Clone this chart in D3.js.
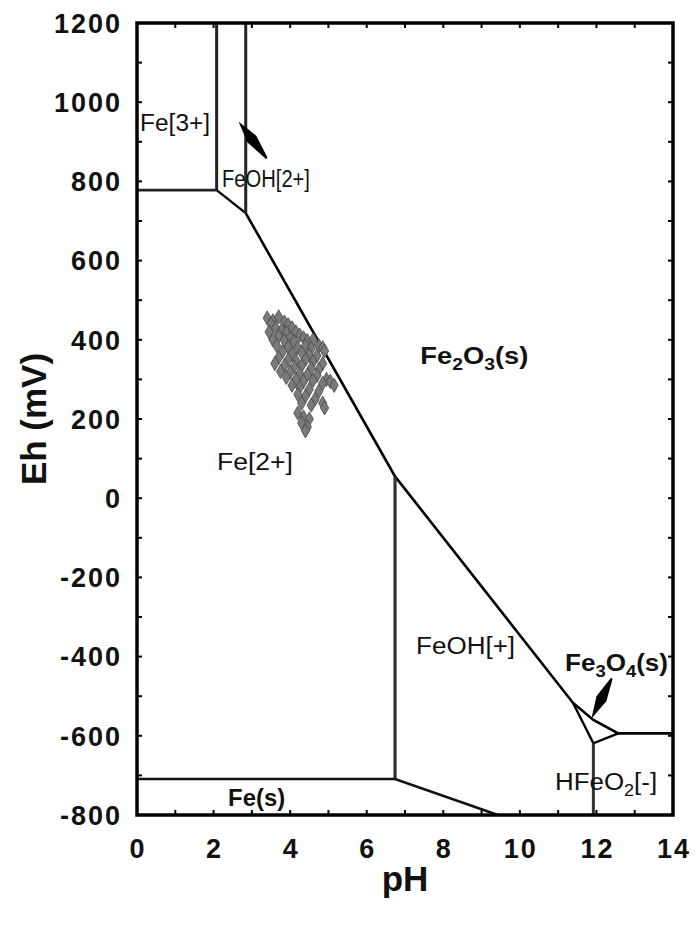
<!DOCTYPE html>
<html>
<head>
<meta charset="utf-8">
<script src="https://cdn.jsdelivr.net/npm/d3@7"></script>
<style>
  html, body { margin: 0; padding: 0; background: #fff; }
  svg { display: block; }
  text { font-family: "Liberation Sans", Arial, sans-serif; }
</style>
</head>
<body>
<svg id="chart" width="695" height="925"></svg>
<script>
// ---- data ----
const phTicks = [0, 2, 4, 6, 8, 10, 12, 14];
const ehTicks = [-800, -600, -400, -200, 0, 200, 400, 600, 800, 1000, 1200];
const phMinorTicks = d3.range(0, 15, 1);
const ehMinorTicks = d3.range(-800, 1201, 100);

// boundary lines [pH, Eh(mV)]
const feIII_feII = [[0, 778], [2.08, 778]];
const feIII_feOH2 = [[2.08, 778], [2.08, 1200]];
const feOH2_feII = [[2.08, 778], [2.84, 720]];
const feOH2_fe2o3 = [[2.84, 720], [2.84, 1200]];
const fe2o3Lower = [[2.84, 720], [6.74, 55], [11.39, -517], [11.92, -560], [12.57, -594], [14, -594]];
const feII_feOH = [[6.74, 55], [6.74, -709]];
const feSolid = [[0, -709], [6.74, -709], [9.43, -800]];
const fe3o4Lower = [[11.39, -517], [11.92, -619], [12.57, -594]];
const hfeo2Left = [[11.92, -619], [11.92, -800]];

// sample points [pH, Eh]
const samples = [
  [3.40,455],[3.55,448],[3.70,458],[3.50,440],[3.85,445],[3.95,438],[3.62,430],[3.78,425],[4.05,430],[3.45,420],
  [3.90,418],[4.15,420],[4.25,412],[3.70,410],[4.00,405],[4.35,405],[3.55,400],[3.85,398],[4.10,395],[4.45,398],
  [4.60,400],[4.75,385],[4.85,380],[4.90,372],[3.65,385],[3.95,382],[4.20,380],[4.40,385],[4.55,378],[3.80,370],
  [4.05,365],[4.30,368],[4.50,362],[4.70,360],[3.70,355],[3.95,350],[4.15,348],[4.40,350],[4.60,345],[4.85,340],
  [3.60,340],[3.85,335],[4.10,332],[4.30,335],[4.55,328],[4.75,325],[3.75,320],[4.00,318],[4.25,315],[4.45,312],
  [4.70,310],[4.95,300],[5.05,295],[3.90,305],[4.15,300],[4.35,295],[4.60,298],[4.85,290],[5.15,285],[4.05,285],
  [4.25,280],[4.50,275],[4.75,270],[4.20,262],[4.40,258],[4.65,250],[4.30,240],[4.55,235],[4.85,240],[4.90,228],
  [4.20,215],[4.35,205],[4.50,200],[4.30,190],[4.45,180],[4.40,170]
];

// region labels
const regionLabels = [
  { parts: [["Fe[3+]", 0]], ph: 0.08, eh: 927, bold: false, w: 70 },
  { parts: [["FeOH[2+]", 0]], ph: 2.22, eh: 786, bold: false, w: 88 },
  { parts: [["Fe", 0], ["2", 1], ["O", 0], ["3", 1], ["(s)", 0]], ph: 7.4, eh: 340, bold: true, w: 108 },
  { parts: [["Fe[2+]", 0]], ph: 2.09, eh: 71, bold: false, w: 76 },
  { parts: [["FeOH[+]", 0]], ph: 7.29, eh: -393, bold: false, w: 99 },
  { parts: [["Fe", 0], ["3", 1], ["O", 0], ["4", 1], ["(s)", 0]], ph: 11.18, eh: -436, bold: true, w: 103 },
  { parts: [["HFeO", 0], ["2", 1], ["[-]", 0]], ph: 10.92, eh: -737, bold: false, w: 102 },
  { parts: [["Fe(s)", 0]], ph: 2.38, eh: -777, bold: true, w: 57 }
];

// arrows [tail, tip]
const arrows = [
  [[3.39, 858], [2.65, 951]],
  [[12.40, -455], [11.87, -556]]
];

// ---- chart ----
const svg = d3.select("#chart");
const L = 137, R = 673, T = 23, B = 815;
const x = d3.scaleLinear().domain([0, 14]).range([L, R]);
const y = d3.scaleLinear().domain([-800, 1200]).range([B, T]);
const line = d3.line().x(d => x(d[0])).y(d => y(d[1]));

// minor ticks (inward)
const tk = 5;
const g = svg.append("g");
phMinorTicks.forEach(v => {
  g.append("line").attr("x1", x(v)).attr("x2", x(v)).attr("y1", B).attr("y2", B - tk).attr("stroke", "#000").attr("stroke-width", 2);
  g.append("line").attr("x1", x(v)).attr("x2", x(v)).attr("y1", T).attr("y2", T + tk).attr("stroke", "#000").attr("stroke-width", 2);
});
ehMinorTicks.forEach(v => {
  g.append("line").attr("x1", L).attr("x2", L + tk).attr("y1", y(v)).attr("y2", y(v)).attr("stroke", "#000").attr("stroke-width", 2);
  g.append("line").attr("x1", R).attr("x2", R - tk).attr("y1", y(v)).attr("y2", y(v)).attr("stroke", "#000").attr("stroke-width", 2);
});

// boundary lines
const boundaries = [
  [feIII_feII, "#222", 2.6], [feIII_feOH2, "#222", 3], [feOH2_feII, "#000", 2.4], [feOH2_fe2o3, "#222", 3],
  [fe2o3Lower, "#000", 2.6], [feII_feOH, "#333", 3.2], [feSolid, "#111", 2.6],
  [fe3o4Lower, "#000", 2.4], [hfeo2Left, "#333", 3]
];
boundaries.forEach(([pts, c, w]) => {
  svg.append("path").attr("d", line(pts)).attr("fill", "none")
    .attr("stroke", c).attr("stroke-width", w).attr("stroke-linejoin", "miter");
});

// samples
svg.append("g").selectAll("path").data(samples).join("path")
  .attr("transform", d => `translate(${x(d[0])},${y(d[1])})`)
  .attr("d", d3.symbol(d3.symbolDiamond).size(58))
  .attr("fill", "#7a7a7a").attr("stroke", "#4a4a4a").attr("stroke-width", 0.8);

// frame
svg.append("rect").attr("x", L).attr("y", T).attr("width", R - L).attr("height", B - T)
  .attr("fill", "none").attr("stroke", "#000").attr("stroke-width", 3.5);

// tick labels
svg.append("g").selectAll("text").data(ehTicks).join("text")
  .attr("x", 122).attr("y", d => y(d)).attr("dy", "0.36em")
  .attr("text-anchor", "end").attr("font-weight", "bold").attr("font-size", 27)
  .attr("letter-spacing", 2)
  .attr("fill", "#111").text(d => d);
svg.append("g").selectAll("text").data(phTicks).join("text")
  .attr("x", d => x(d) + 1).attr("y", 848).attr("dy", "0.36em")
  .attr("text-anchor", "middle").attr("font-weight", "bold").attr("font-size", 27)
  .attr("letter-spacing", 2)
  .attr("fill", "#111").text(d => d);

// axis titles
svg.append("text").attr("x", (L + R) / 2).attr("y", 891).attr("text-anchor", "middle")
  .attr("font-weight", "bold").attr("font-size", 35).attr("fill", "#111").text("pH");
svg.append("text").attr("transform", `translate(46,${(T + B) / 2}) rotate(-90)`).attr("text-anchor", "middle")
  .attr("font-weight", "bold").attr("font-size", 35).attr("fill", "#111").text("Eh (mV)");

// region labels
regionLabels.forEach(lb => {
  const t = svg.append("text").attr("x", x(lb.ph)).attr("y", y(lb.eh))
    .attr("font-size", lb.bold ? 24 : 23).attr("font-weight", lb.bold ? "bold" : "normal")
    .attr("fill", "#111");
  lb.parts.forEach(([s, sub]) => {
    const ts = t.append("tspan").text(s);
    if (sub) ts.attr("font-size", lb.bold ? 17 : 16).attr("dy", 6);
    else if (t.selectAll("tspan").size() > 1) ts.attr("dy", -6);
  });
  t.attr("textLength", lb.w).attr("lengthAdjust", "spacingAndGlyphs");
});

// arrows
arrows.forEach(([tail, tip]) => {
  const x0 = x(tail[0]), y0 = y(tail[1]), x1 = x(tip[0]), y1 = y(tip[1]);
  const dx = x1 - x0, dy = y1 - y0, len = Math.hypot(dx, dy);
  const ux = dx / len, uy = dy / len, px = -uy, py = ux;
  const head = 22, hw = 5.5;
  const bx = x1 - ux * head, by = y1 - uy * head;
  svg.append("path")
    .attr("d", `M${x0 - px},${y0 - py}L${bx - px * hw},${by - py * hw}L${x1},${y1}L${bx + px * hw},${by + py * hw}L${x0 + px},${y0 + py}Z`)
    .attr("fill", "#000");
});
</script>
</body>
</html>
